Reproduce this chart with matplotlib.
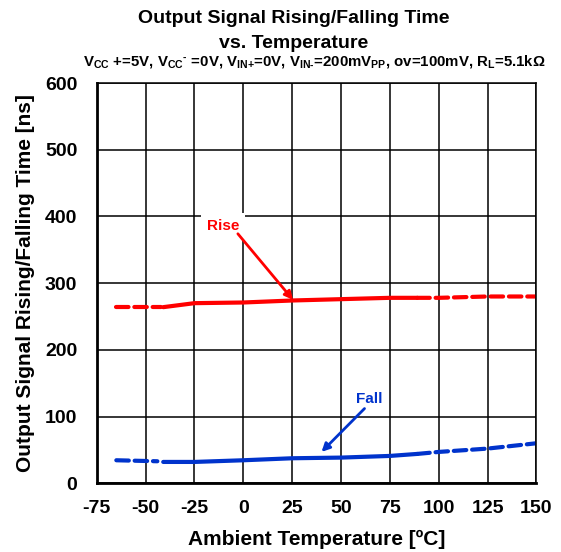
import matplotlib
matplotlib.use('Agg')
import matplotlib.pyplot as plt

plt.rcParams['font.family'] = ['Liberation Sans', 'DejaVu Sans']
plt.rcParams['font.weight'] = 'bold'
plt.rcParams['axes.unicode_minus'] = False
plt.rcParams['mathtext.fontset'] = 'custom'
plt.rcParams['mathtext.rm'] = 'Liberation Sans:bold'
plt.rcParams['mathtext.bf'] = 'Liberation Sans:bold'
plt.rcParams['mathtext.default'] = 'bf'

# rise time [ns] vs temperature
rise_t_lo = [-65, -42]
rise_v_lo = [264, 264]
rise_t_mid = [-41, -25, 0, 25, 50, 75, 89]
rise_v_mid = [264, 270, 271, 274, 276, 278, 278]
rise_t_hi = [89, 100, 125, 150]
rise_v_hi = [278, 278, 280, 280]

# fall time [ns]
fall_t_lo = [-65, -44]
fall_v_lo = [34.5, 33]
fall_t_mid = [-41, -25, 0, 25, 50, 75, 89]
fall_v_mid = [32, 32, 34.5, 37.5, 38.5, 41, 44]
fall_t_hi = [89, 100, 125, 150]
fall_v_hi = [44, 47, 52, 60]

xticks = [-75, -50, -25, 0, 25, 50, 75, 100, 125, 150]
yticks = [0, 100, 200, 300, 400, 500, 600]

red = '#ff0000'
blue = '#0033cc'

fig = plt.figure(figsize=(5.61, 5.52), dpi=100)
ax = fig.add_axes([0.1725, 0.1245, 0.7838, 0.7251])

dash = (3, 1.4)
ax.plot(rise_t_lo, rise_v_lo, color=red, lw=3, dashes=dash, dash_capstyle='round')
ax.plot(rise_t_mid, rise_v_mid, color=red, lw=3, solid_capstyle='round')
ax.plot(rise_t_hi, rise_v_hi, color=red, lw=3, dashes=dash, dash_capstyle='round')
ax.plot(fall_t_lo, fall_v_lo, color=blue, lw=3, dashes=dash, dash_capstyle='round')
ax.plot(fall_t_mid, fall_v_mid, color=blue, lw=3, solid_capstyle='round')
ax.plot(fall_t_hi, fall_v_hi, color=blue, lw=3, dashes=dash, dash_capstyle='round')

ax.set_xlim(-75, 150)
ax.set_ylim(0, 600)
ax.set_xticks(xticks)
ax.set_yticks(yticks)
ax.grid(True, color='black', lw=1.1)
ax.set_axisbelow(True)
ax.tick_params(length=0, labelsize=14)
ax.tick_params(axis='y', pad=14)
ax.tick_params(axis='x', pad=12)
for s in ax.spines.values():
    s.set_linewidth(1.1)
ax.spines['left'].set_linewidth(2)
ax.spines['bottom'].set_linewidth(2)

# labels with white boxes, arrows drawn separately
ax.text(-10.5, 386, 'Rise', color=red, fontsize=11, fontweight='bold', ha='center', va='center',
        bbox=dict(boxstyle='square,pad=0.4', fc='white', ec='none'))
ax.annotate('', xy=(25.4, 275), xytext=(-2.8, 374),
            arrowprops=dict(arrowstyle='-|>', color=red, lw=2, mutation_scale=12,
                            shrinkA=0, shrinkB=0))
ax.text(64.5, 127, 'Fall', color=blue, fontsize=11, fontweight='bold', ha='center', va='center',
        bbox=dict(boxstyle='square,pad=0.3', fc='white', ec='none'))
ax.annotate('', xy=(40, 47), xytext=(62, 112),
            arrowprops=dict(arrowstyle='-|>', color=blue, lw=2, mutation_scale=12,
                            shrinkA=0, shrinkB=0))

ax.set_xlabel('Ambient Temperature [ºC]', fontsize=15, fontweight='bold', labelpad=9)
ax.set_ylabel('Output Signal Rising/Falling Time [ns]', fontsize=15, fontweight='bold', labelpad=7)

fig.text(0.524, 0.967, 'Output Signal Rising/Falling Time', ha='center', va='center',
         fontsize=14, fontweight='bold')
fig.text(0.524, 0.922, 'vs. Temperature', ha='center', va='center',
         fontsize=14, fontweight='bold')
fig.text(0.561, 0.889,
         r'V$_{CC}$ +=5V, V$_{CC}$$^{\text{-}}$ =0V, V$_{\text{IN+}}$=0V, V$_{\text{IN-}}$=200mV$_{PP}$, ov=100mV, R$_{L}$=5.1kΩ',
         ha='center', va='center', fontsize=10.8, fontweight='bold')

fig.savefig('out.png', dpi=100)
